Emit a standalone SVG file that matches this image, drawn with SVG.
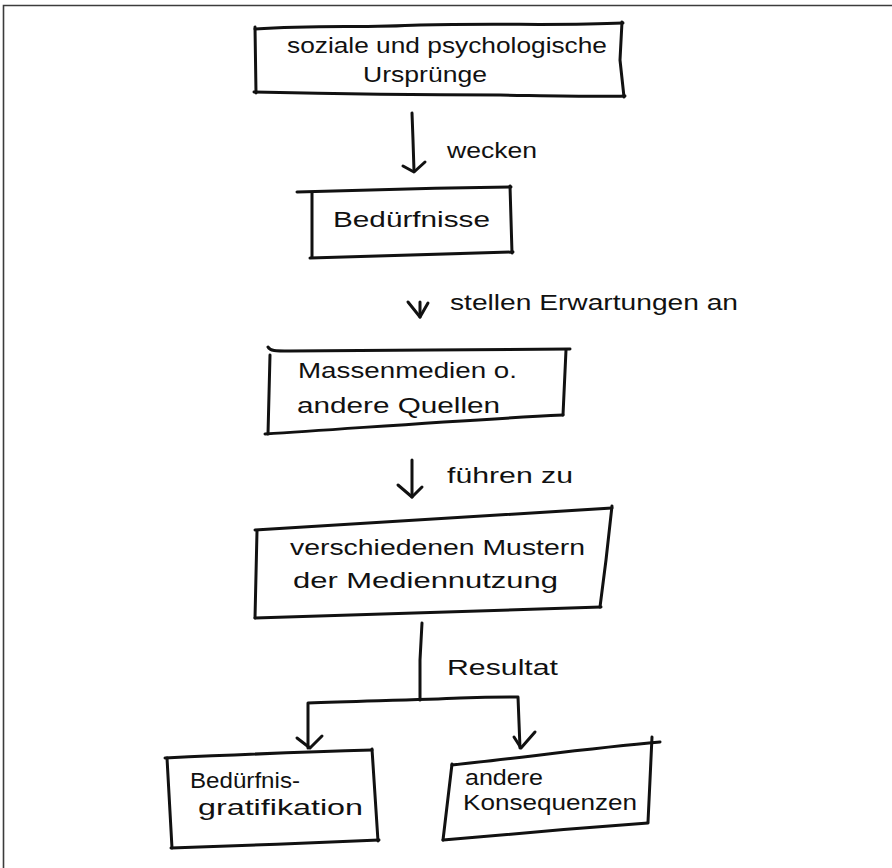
<svg xmlns="http://www.w3.org/2000/svg" width="892" height="868" viewBox="0 0 892 868">
  <style>
    .pen { fill: none; stroke: #111; stroke-width: 3; stroke-linecap: round; stroke-linejoin: round; }
    .hand { font-family: "Liberation Sans", "DejaVu Sans", sans-serif; font-size: 22px; fill: #111; }
    .frame { fill: none; stroke: #3c3c3c; stroke-width: 1.6; }
  </style>
  <rect width="892" height="868" fill="#fff"/>

  <!-- outer frame (top and left edges) -->
  <path class="frame" d="M3.5 868 V5.5 H892"/>

  <!-- hand-drawn boxes -->
  <g id="node-urspruenge">
    <path class="pen" d="M255 29 C320 25 360 28 420 25 C500 23 560 26 623 23"/>
    <path class="pen" d="M255 27 L256 93"/>
    <path class="pen" d="M622 22 L620 60 L624 97"/>
    <path class="pen" d="M254 92 C340 94 420 95 500 95 C560 96 600 97 625 96"/>
    <text class="hand" x="287" y="53" textLength="320" lengthAdjust="spacingAndGlyphs">soziale und psychologische</text>
    <text class="hand" x="363" y="82" textLength="124" lengthAdjust="spacingAndGlyphs">Ursprünge</text>
  </g>

  <g id="node-beduerfnisse">
    <path class="pen" d="M297 192 C360 190 440 188 511 187"/>
    <path class="pen" d="M312 193 L312 257"/>
    <path class="pen" d="M510 186 L512 253"/>
    <path class="pen" d="M310 258 C380 256 450 254 513 252"/>
    <text class="hand" x="333" y="227" textLength="157" lengthAdjust="spacingAndGlyphs">Bedürfnisse</text>
  </g>

  <g id="node-massenmedien">
    <path class="pen" d="M268 347 C270 351 275 351 290 351 C380 350 480 350 570 349"/>
    <path class="pen" d="M270 355 L268 434"/>
    <path class="pen" d="M566 350 L563 415"/>
    <path class="pen" d="M265 434 C360 428 460 420 563 415"/>
    <text class="hand" x="298" y="378" textLength="219" lengthAdjust="spacingAndGlyphs">Massenmedien o.</text>
    <text class="hand" x="297" y="413" textLength="203" lengthAdjust="spacingAndGlyphs">andere Quellen</text>
  </g>

  <g id="node-muster">
    <path class="pen" d="M255 530 C360 524 480 516 612 508"/>
    <path class="pen" d="M257 531 L255 618"/>
    <path class="pen" d="M612 506 L606 560 L600 607"/>
    <path class="pen" d="M255 618 C360 614 480 610 601 607"/>
    <text class="hand" x="290" y="555" textLength="295" lengthAdjust="spacingAndGlyphs">verschiedenen Mustern</text>
    <text class="hand" x="293" y="588" textLength="265" lengthAdjust="spacingAndGlyphs">der Mediennutzung</text>
  </g>

  <g id="node-gratifikation">
    <path class="pen" d="M165 758 C230 755 300 752 372 750"/>
    <path class="pen" d="M167 758 L172 848"/>
    <path class="pen" d="M372 749 L378 841"/>
    <path class="pen" d="M171 848 C240 846 310 843 379 840"/>
    <text class="hand" x="190" y="788" textLength="110" lengthAdjust="spacingAndGlyphs">Bedürfnis-</text>
    <text class="hand" x="198" y="815" textLength="165" lengthAdjust="spacingAndGlyphs">gratifikation</text>
  </g>

  <g id="node-konsequenzen">
    <path class="pen" d="M452 765 C520 758 590 748 660 742"/>
    <path class="pen" d="M452 764 L443 840"/>
    <path class="pen" d="M652 737 L650 780 L648 822"/>
    <path class="pen" d="M443 840 C510 834 580 828 648 823"/>
    <text class="hand" x="465" y="785" textLength="78" lengthAdjust="spacingAndGlyphs">andere</text>
    <text class="hand" x="463" y="810" textLength="174" lengthAdjust="spacingAndGlyphs">Konsequenzen</text>
  </g>

  <!-- connectors and their labels -->
  <g id="connectors">
    <path class="pen" d="M412 113 L413 140 L414 171"/>
    <path class="pen" d="M403 166 L414 172 L425 162"/>
    <text class="hand" x="447" y="158" textLength="90" lengthAdjust="spacingAndGlyphs">wecken</text>

    <path class="pen" d="M420 302 L420 317"/>
    <path class="pen" d="M408 302 L420 317 L428 303"/>
    <text class="hand" x="450" y="310" textLength="288" lengthAdjust="spacingAndGlyphs">stellen Erwartungen an</text>

    <path class="pen" d="M412 460 L412 497"/>
    <path class="pen" d="M398 485 L412 497 L422 487"/>
    <text class="hand" x="447" y="483" textLength="126" lengthAdjust="spacingAndGlyphs">führen zu</text>

    <path class="pen" d="M422 623 L420 660 L420 700"/>
    <path class="pen" d="M308 748 L308 703 C360 701 420 700 460 698 C490 697 505 697 518 697 L520 748"/>
    <path class="pen" d="M297 738 L310 748 L322 736"/>
    <path class="pen" d="M514 737 L521 748 L535 732"/>
    <text class="hand" x="447" y="675" textLength="111" lengthAdjust="spacingAndGlyphs">Resultat</text>
  </g>
</svg>
